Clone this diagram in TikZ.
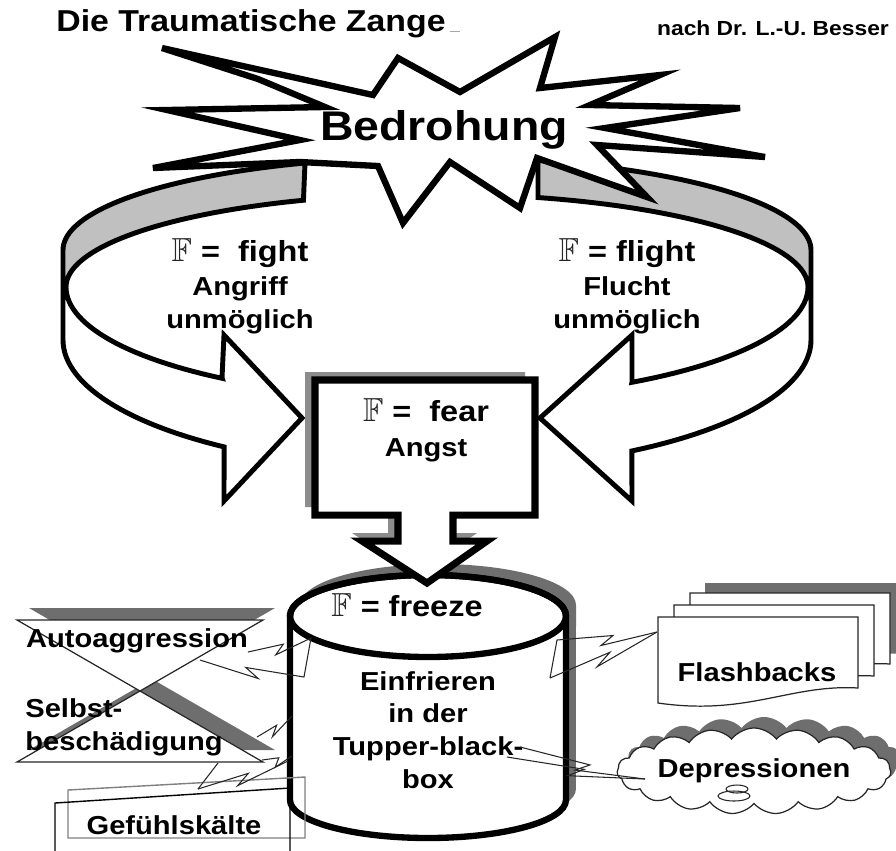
\documentclass[tikz,border=0pt]{standalone}
\usepackage{amssymb}
\usepackage{graphicx}
\usepackage{fontspec}
\setmainfont{Liberation Sans}[FakeStretch=1.12]
\usetikzlibrary{calc,shapes.symbols,shadows}

\definecolor{ringgrey}{HTML}{C0C0C0}
\definecolor{darkshade}{HTML}{6E6E6E}
\definecolor{midshade}{HTML}{8C8C8C}

\newcommand{\FF}{\textcolor{black!85}{\scalebox{1.15}{$\mathbb{F}$}}}
\newcommand{\hdfont}{\fontsize{16.5}{18.7}\selectfont}

% outlines used twice (fill, then draw)
\newcommand{\leftsil}{(305,163) -- plot[domain=249.3:180,samples=40] ({437+374*cos(\x)},{250+93*sin(\x)}) -- (63,340) -- plot[domain=180:124.7,samples=30] ({437+374*cos(\x)},{340+130*sin(\x)}) -- (224,501) -- (302,418) -- (224,335) -- (222,378) -- plot[domain=125.4:180,samples=30] ({437+371*cos(\x)},{287+112*sin(\x)}) -- plot[domain=180:248.9,samples=40] ({437+371*cos(\x)},{287+93*sin(\x)}) -- cycle}
\newcommand{\rightsil}{(538,160) -- plot[domain=285.7:360,samples=40] ({437+374*cos(\x)},{250+93*sin(\x)}) -- (811,340) -- plot[domain=0:58.6,samples=30] ({437+374*cos(\x)},{340+130*sin(\x)}) -- (632,501) -- (540,418) -- (632,335) -- (632,382) -- plot[domain=58.3:0,samples=30] ({437+371*cos(\x)},{287+112*sin(\x)}) -- plot[domain=360:285.8,samples=40] ({437+371*cos(\x)},{287+93*sin(\x)}) -- cycle}
\newcommand{\fearsil}{(315,380) -- (535,380) -- (535,515) -- (453,515) -- (453,541) -- (487,541) -- (427,583) -- (362,541) -- (398,541) -- (398,515) -- (315,515) -- cycle}
\newcommand{\cylsil}{(290,616) -- (290,800) arc[start angle=180, end angle=360, x radius=2.76cm, y radius=0.76cm] -- (566,616) arc[start angle=0, end angle=180, x radius=2.76cm, y radius=0.82cm] -- cycle}
\newcommand{\docsil}{(658,617) -- (858,617) -- (858,688) .. controls (790,684) and (748,716) .. (658,703) -- cycle}

\tikzset{
        % thick outlines
        ring/.style={draw=black, line width=2.8pt},
        heavy/.style={draw=black, line width=3.6pt, fill=white},
        % thin outlines of the side symbols
        thinline/.style={draw=black!85, line width=0.7pt, fill=white},
        % lightning connectors
        bolt/.style={draw=black!85, line width=0.6pt, to path={-- ($(\tikztostart)!.56!(\tikztotarget)$) -- ($(\tikztostart)!.44!(\tikztotarget)+(0,9)$) -- (\tikztotarget)}},
        % texts
        lbl/.style={font=\bfseries\fontsize{14.8}{18.7}\selectfont, align=center, inner sep=0pt}
}

\begin{document}
\begin{tikzpicture}[x=0.02cm, y=-0.02cm]
\useasboundingbox (0,0) rectangle (896,850);

% the two halves of the ring
\fill[white] \leftsil;
\fill[ringgrey] plot[domain=249.3:180,samples=40] ({437+374*cos(\x)},{250+93*sin(\x)}) -- (63,287) -- plot[domain=180:248.9,samples=40] ({437+371*cos(\x)},{287+93*sin(\x)}) -- cycle;
\draw[ring] \leftsil;
\fill[white] \rightsil;
\fill[ringgrey] plot[domain=285.7:360,samples=40] ({437+374*cos(\x)},{250+93*sin(\x)}) -- (811,287) -- plot[domain=360:285.8,samples=40] ({437+371*cos(\x)},{287+93*sin(\x)}) -- cycle;
\draw[ring] \rightsil;

% threat star
\draw[heavy] (162,48) -- (373,95) -- (398,58) -- (460,92) -- (555,37) -- (540,88) -- (660,75) -- (590,105) -- (740,108) -- (605,128) -- (765,157) -- (597,145) -- (647,197) -- (537,158) -- (520,208) -- (450,162) -- (403,223) -- (378,166) -- (300,162) -- (153,168) -- (300,140) -- (167,110) -- (325,107) -- (258,79) -- cycle;
\node[lbl, font=\bfseries\fontsize{23.6}{26}\selectfont] (threat) at (444,130) {Bedrohung};

\node[lbl] (fight) at (240,286) {{\hdfont\FF{} =\ \ fight}\\[1pt]Angriff\\unmöglich};
\node[lbl] (flight) at (627,286) {{\hdfont\FF{} = flight}\\[1pt]Flucht\\unmöglich};

% freezer box
\fill[darkshade, shift={(10,-11)}] \cylsil;
\draw[heavy] \cylsil;
\draw[line width=3.6pt] (428,616) ellipse[x radius=2.76cm, y radius=0.82cm];

% fear box with arrow
\fill[midshade, shift={(-10,-8)}] \fearsil;
\draw[heavy, line width=4pt] \fearsil;
\node[lbl] (fear) at (426,430) {{\hdfont\FF{} =\ \ fear}\\[1pt]Angst};

\node[lbl] (freeze) at (407,605) {{\hdfont\FF{} = freeze}};
\node[lbl] (einfrieren) at (428,730) {Einfrieren\\in der\\Tupper-black-\\box};

% left: collate symbol
\fill[darkshade] (29,608) -- (275,608) -- (29,750) -- (275,750) -- cycle;
\draw[thinline] (17,620) -- (263,620) -- (17,762) -- (263,762) -- cycle;
\node[lbl] (autoagg) at (137,641) {Autoaggression};
\node[lbl, align=left, anchor=west] (selbst) at (25,727) {Selbst-\\beschädigung};

% left: cold box
\draw[gray, line width=0.8pt] (68,790) -- (305,777) -- (305,838) -- (68,838) -- cycle;
\draw[black, line width=0.8pt] (55,856) -- (55,803) -- (290,788) -- (290,856);
\node[lbl] (kaelte) at (174,825) {Gefühlskälte};

% right: flashback pages
\fill[darkshade, shift={(47,-34)}] \docsil;
\draw[thinline, shift={(32,-24)}] \docsil;
\draw[thinline, shift={(16,-12)}] \docsil;
\draw[thinline] \docsil;
\node[lbl] (flash) at (757,672) {Flashbacks};

% right: cloud
\node[cloud, cloud puffs=19, cloud puff arc=105, aspect=4.2, thinline, minimum width=5.2cm, minimum height=1.2cm,
      drop shadow={shadow xshift=0.2cm, shadow yshift=0.22cm, fill=darkshade, opacity=1},
      lbl] (depr) at (754,771) {Depressionen};
\draw[black!85, line width=0.6pt] (737,789) ellipse[x radius=0.22cm, y radius=0.08cm];
\draw[black!85, line width=0.6pt] (734,796) ellipse[x radius=0.32cm, y radius=0.1cm];

% connector end points
\coordinate (aa1) at (248,652);
\coordinate (aa2) at (200,660);
\coordinate (ca1) at (311,638);
\coordinate (ca2) at (304,677);
\coordinate (sb1) at (257,737);
\coordinate (sb2) at (262,760);
\coordinate (cs1) at (292,716);
\coordinate (cs2) at (292,756);
\coordinate (gk) at (198,789);
\coordinate (gb) at (218,763);
\coordinate (cg) at (288,761);
\coordinate (fb) at (657,632);
\coordinate (cf1) at (557,640);
\coordinate (cf2) at (550,678);
\coordinate (dp) at (645,779);
\coordinate (cd1) at (520,747);
\coordinate (cd2) at (507,757);

% lightning connectors
\draw[bolt] (aa1) to (ca1) -- (ca2) to (aa2);
\draw[bolt] (sb1) to (cs1);
\draw[bolt] (sb2) to (cs2);
\draw[bolt] (gk) to (cg);
\draw[black!85, line width=0.6pt] (gk) -- (gb);
\draw[bolt] (cf1) to (fb);
\draw[bolt] (cf2) to (fb);
\draw[black!85, line width=0.6pt] (cf1) -- (cf2);
\draw[bolt] (cd1) to (dp);
\draw[bolt] (cd2) to (dp);

% headings
\node[lbl, font=\bfseries\fontsize{17.2}{20}\selectfont] (title) at (251,24) {Die Traumatische Zange};
\draw[gray!70, line width=0.8pt] ([xshift=2pt]title.base east) -- ++(10,0);
\node[lbl, font=\bfseries\fontsize{11.6}{14}\selectfont] (source) at (773,28) {nach Dr. L.-U. Besser};
\end{tikzpicture}
\end{document}
